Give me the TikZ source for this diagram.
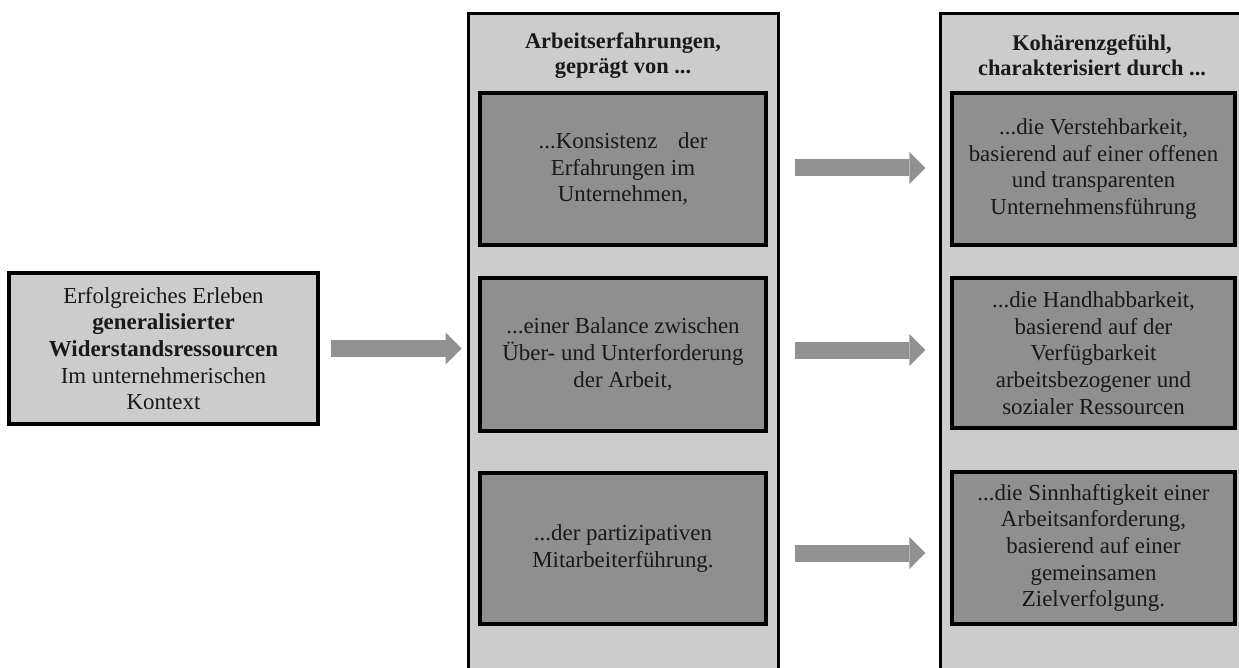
\documentclass[tikz,border=0pt]{standalone}
\usepackage{fontspec}
\setmainfont{Liberation Serif}
\usetikzlibrary{arrows.meta}
\definecolor{colfill}{gray}{0.80}
\definecolor{boxfill}{gray}{0.56}
\definecolor{arrowfill}{gray}{0.57}
\definecolor{inktext}{gray}{0.1}

\begin{document}
\begin{tikzpicture}[x=1pt,y=-1pt,
  column/.style={draw=black, line width=3pt, fill=colfill, minimum width=310pt,
    minimum height=720pt, anchor=north, inner sep=0pt},
  coltitle/.style={align=center, inner sep=0pt, text=inktext,
    font=\fontsize{22.4}{25}\selectfont\bfseries},
  itembox/.style={draw=black, line width=3.2pt, fill=boxfill, align=center, inner sep=0pt,
    minimum height=152pt, text=inktext, font=\fontsize{22.9}{26.7}\selectfont},
  midbox/.style={itembox, minimum width=286pt},
  rightbox/.style={itembox, minimum width=283pt},
  startbox/.style={draw=black, line width=4pt, fill=colfill, align=center, inner sep=0pt,
    minimum width=309pt, minimum height=151pt, text=inktext,
    font=\fontsize{22.9}{26.7}\selectfont},
  flow/.style={draw=arrowfill, line width=17pt,
    -{Triangle[length=16pt, width=32pt, line width=0pt]}}
]
\useasboundingbox (0,0) rectangle (1239,668);

% starting point
\node[startbox] (start) at (163.5,348.5)
  {Erfolgreiches Erleben\\\textbf{generalisierter}\\\textbf{Widerstandsressourcen}\\Im unternehmerischen\\Kontext};

% middle column: work experiences
\node[column] (midcol) at (623,12) {};
\node[coltitle] (midtitle) at (623,55.5) {Arbeitserfahrungen,\\geprägt von ...};
\node[midbox] (m1) at (623,169) {...Konsistenz\hspace{0.9em}der\\Erfahrungen im\\Unternehmen,};
\node[midbox, minimum height=153pt] (m2) at (623,354.5) {...einer Balance zwischen\\Über- und Unterforderung\\der Arbeit,};
\node[midbox, minimum height=151pt] (m3) at (623,548.5) {...der partizipativen\\Mitarbeiterführung.};

% right column: sense of coherence
\node[column] (rightcol) at (1095,12) {};
\node[coltitle] (righttitle) at (1092,55.5) {Kohärenzgefühl,\\charakterisiert durch ...};
\node[rightbox] (r1) at (1093.5,169) {...die Verstehbarkeit,\\basierend auf einer offenen\\und transparenten\\Unternehmensführung};
\node[rightbox, minimum height=150pt] (r2) at (1093.5,353) {...die Handhabbarkeit,\\basierend auf der\\Verfügbarkeit\\arbeitsbezogener und\\sozialer Ressourcen};
\node[rightbox] (r3) at (1093.5,548) {...die Sinnhaftigkeit einer\\Arbeitsanforderung,\\basierend auf einer\\gemeinsamen\\Zielverfolgung.};

% connectors
\draw[flow, shorten <=11pt, shorten >=5pt] (start.east) -- (start.east -| midcol.west);
\draw[flow, shorten <=27pt, shorten >=25pt] ([yshift=1pt]m1.east) -- ([yshift=1pt]m1.east -| r1.west);
\draw[flow, shorten <=27pt, shorten >=25pt] ([yshift=4.5pt]m2.east) -- ([yshift=4.5pt]m2.east -| r2.west);
\draw[flow, shorten <=27pt, shorten >=25pt] ([yshift=-4.5pt]m3.east) -- ([yshift=-4.5pt]m3.east -| r3.west);
\end{tikzpicture}
\end{document}
